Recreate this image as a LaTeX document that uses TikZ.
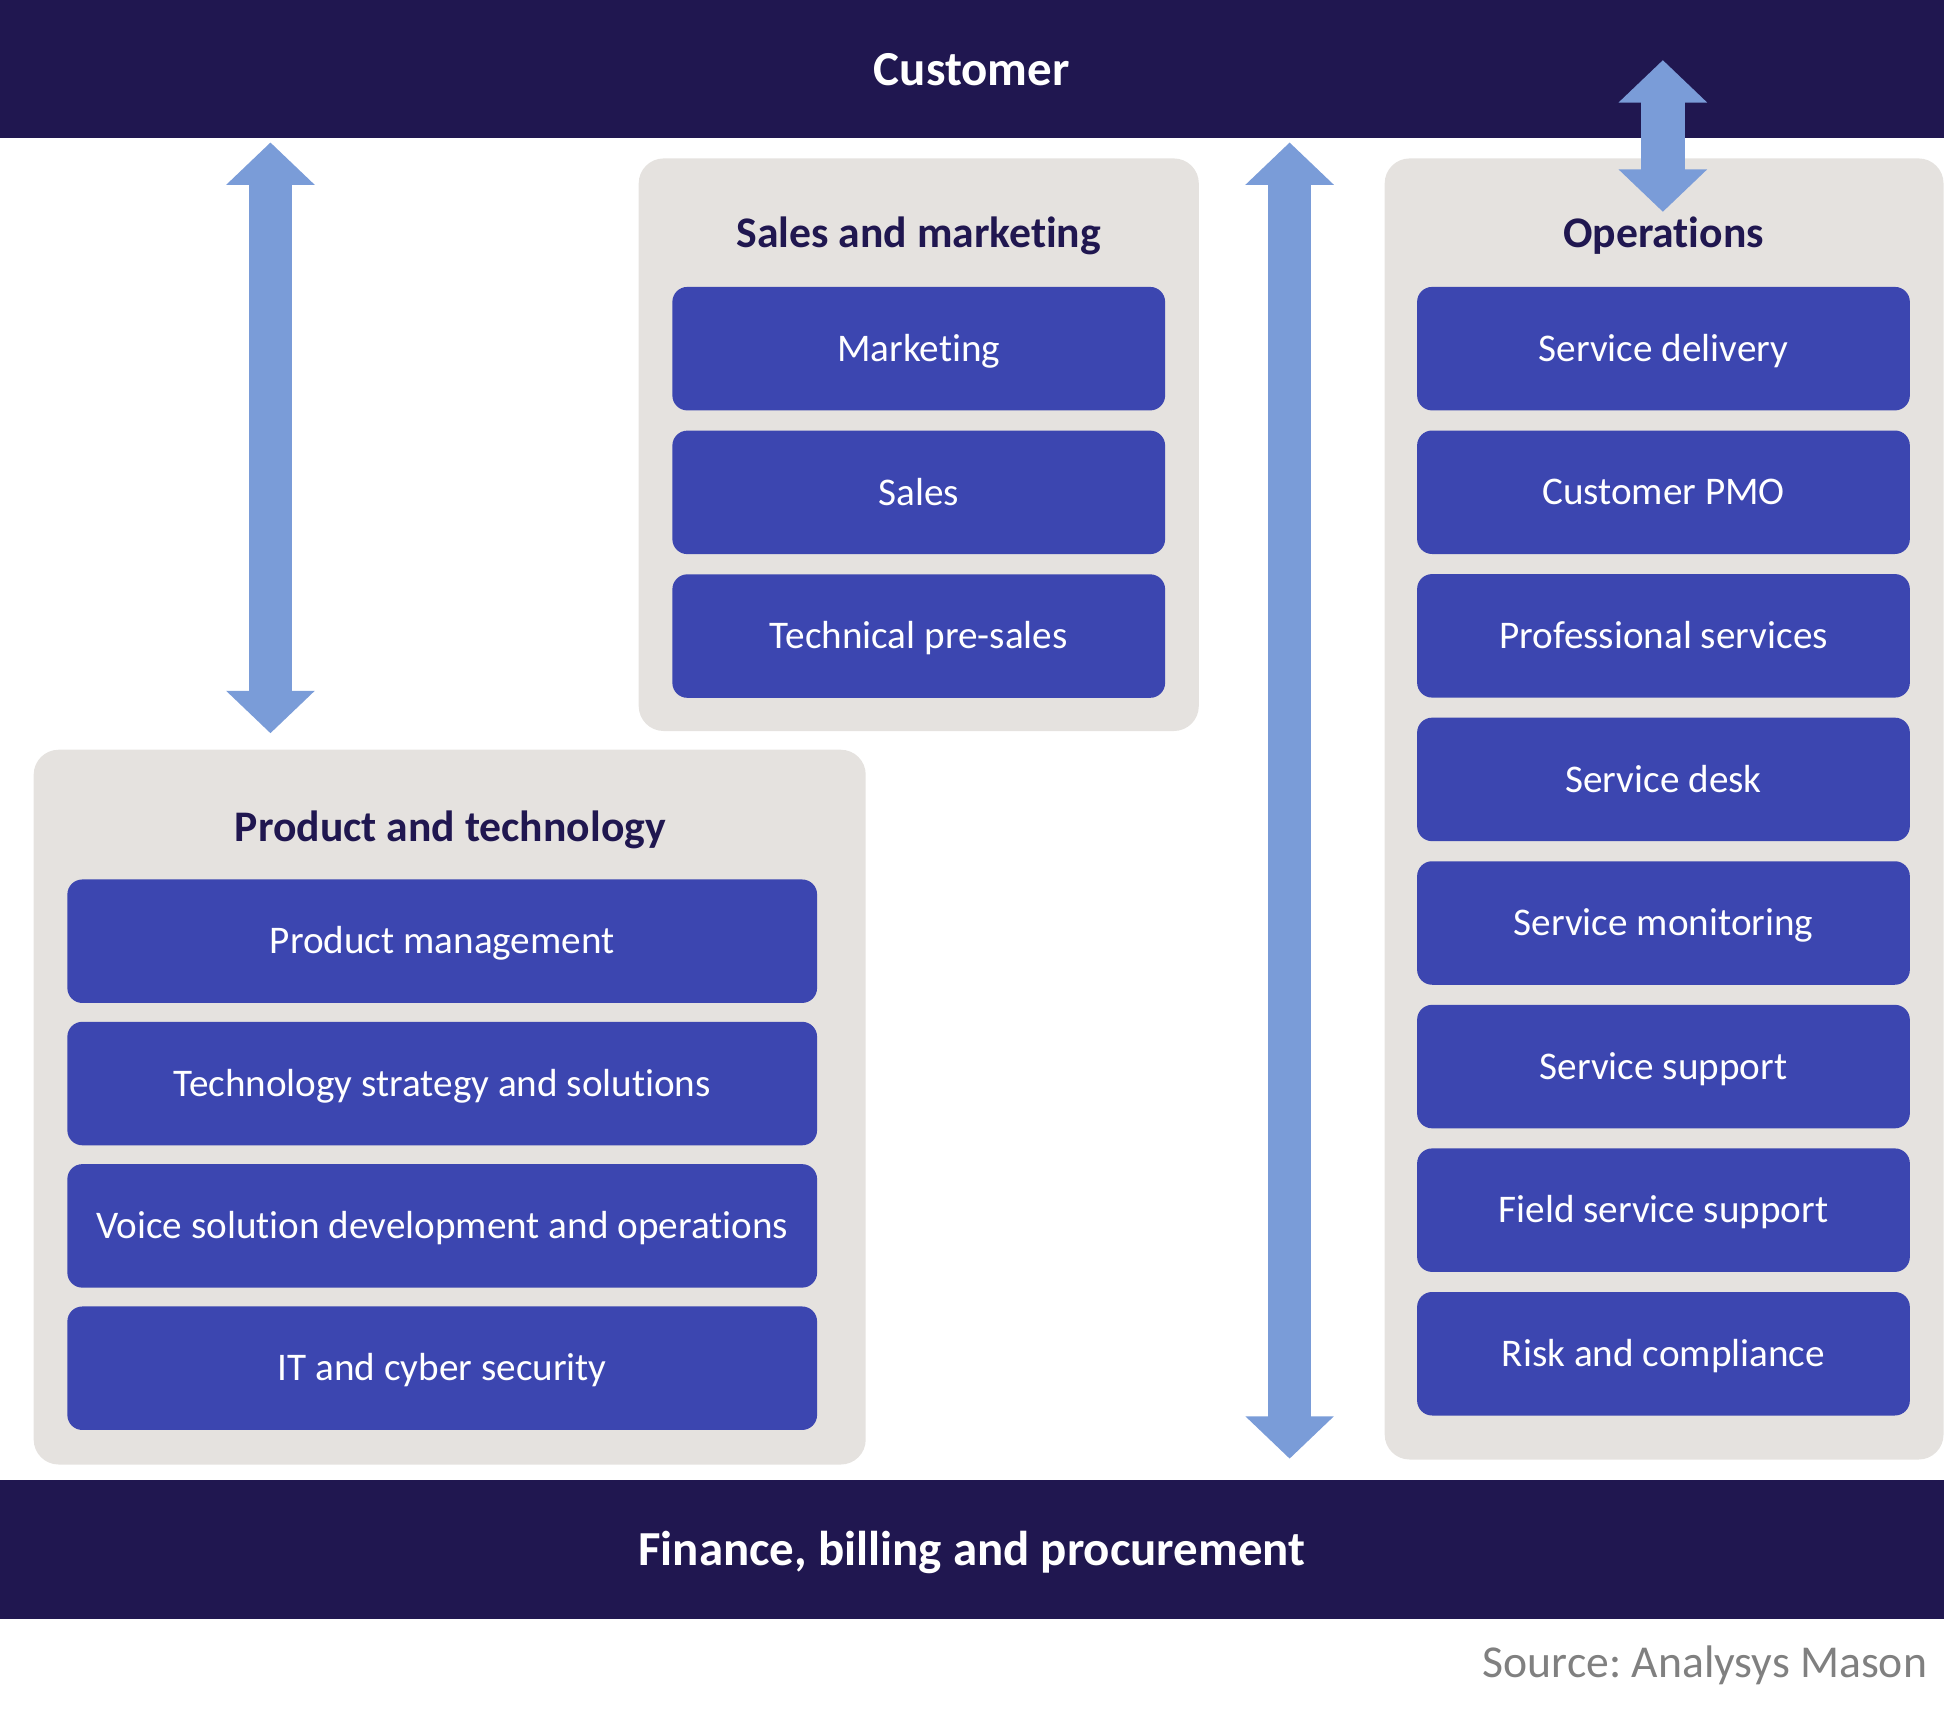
\documentclass[tikz,border=0pt]{standalone}
\usepackage{fontspec}
\setmainfont{Carlito}[Ligatures=NoCommon]
\usetikzlibrary{positioning,arrows.meta}
\definecolor{navy}{HTML}{201750}
\definecolor{boxblue}{HTML}{3C46B0}
\definecolor{panelgray}{HTML}{E5E2DF}
\definecolor{arrowblue}{HTML}{7A9CD8}
\definecolor{srcgray}{HTML}{808080}
\frenchspacing
\begin{document}
\begin{tikzpicture}[x=1pt,y=-1pt,
		txt/.style={text height=0.85*#1 pt,text depth=0.2*#1 pt},
		bar/.style={txt=39.2,fill=navy,text=white,minimum width=1558pt,minimum height=111pt,inner sep=0pt,font=\fontsize{39.2}{47}\selectfont\bfseries},
		panel/.style={fill=panelgray,rounded corners=20pt,inner sep=0pt},
		heading/.style={txt=35,text=navy,font=\fontsize{35}{42}\selectfont\bfseries},
		unit/.style={txt=31.4,fill=boxblue,text=white,rounded corners=12pt,minimum height=99pt,inner sep=0pt,font=\fontsize{31.4}{38}\selectfont},
		flow/.style={draw=arrowblue,line width=35pt,{Triangle[length=34pt,width=69pt]}-{Triangle[length=34pt,width=69pt]}}]
		\useasboundingbox (0,0) rectangle (1568,1376);
		% bars
		\node[bar] (customer) at (779,55.5) {Customer};
		\node[bar] (finance) at (779,1242) {Finance, billing and procurement};
		% panels
		\node[panel,minimum width=449pt,minimum height=459pt] (sales) at (736.5,356.5) {};
		\node[panel,minimum width=448pt,minimum height=1043pt] (ops) at (1334,648.5) {};
		\node[panel,minimum width=667pt,minimum height=573pt] (prod) at (360.5,887.5) {};
		\node[heading] (salesh) at (736.5,187) {Sales and marketing};
		\node[heading] (opsh) at (1333.5,187) {Operations};
		\node[heading] (prodh) at (361,663) {Product and technology};
		% sales and marketing
		\node[unit,minimum width=395pt] (s1) at (736.5,279.5) {Marketing};
		\node[unit,minimum width=395pt,below=15.8pt of s1] (s2) {Sales};
		\node[unit,minimum width=395pt,below=15.8pt of s2] (s3) {Technical pre-sales};
		% operations
		\node[unit,minimum width=395pt] (o1) at (1333.5,279.5) {Service delivery};
		\foreach \t [count=\i from 2, remember=\i as \j (initially 1)] in {Customer PMO,Professional services,Service desk,Service monitoring,Service support,Field service support,Risk and compliance}
			\node[unit,minimum width=395pt,below=15.7pt of o\j] (o\i) {\t};
		% product and technology
		\node[unit,minimum width=601pt] (p1) at (354.5,754.5) {Product management};
		\node[unit,minimum width=601pt,below=14.7pt of p1] (p2) {Technology strategy and solutions};
		\node[unit,minimum width=601pt,below=14.7pt of p2] (p3) {Voice solution development and operations};
		\node[unit,minimum width=601pt,below=14.7pt of p3] (p4) {IT and cyber security};
		% arrows
		\draw[flow] ([xshift=217pt,yshift=-3pt]customer.south west) -- ([xshift=190pt,yshift=13pt]prod.north west);
		\draw[flow] ([xshift=1034pt,yshift=-3pt]customer.south west) -- ([xshift=1034pt,yshift=17pt]finance.north west);
		\draw[flow] ([xshift=-1pt,yshift=63pt]customer.south -| ops.south) -- ([xshift=-1pt,yshift=-43pt]ops.north);
		% source
		\node[txt=36.6,anchor=east,text=srcgray,inner sep=0pt,font=\fontsize{36.6}{44}\selectfont] (source) at (1545,1333) {Source: Analysys Mason};
	\end{tikzpicture}
\end{document}
